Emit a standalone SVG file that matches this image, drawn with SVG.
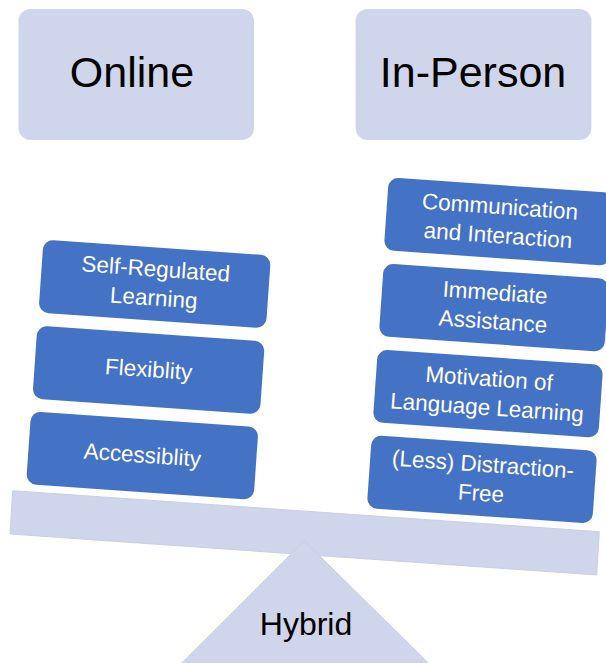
<svg xmlns="http://www.w3.org/2000/svg" width="606" height="663" viewBox="0 0 606 663">
<style>
.hdr{fill:#CFD5EA}
.hdrt{font-family:"Liberation Sans",Arial,sans-serif;font-size:43px;fill:#000;text-anchor:middle}
.box{fill:#4472C4}
.bt{font-family:"Liberation Sans",Arial,sans-serif;font-size:22.5px;fill:#fff;text-anchor:middle}
.lav{fill:#CFD5EA;stroke:#C8CEE6;stroke-width:1}
.hyb{font-family:"Liberation Sans",Arial,sans-serif;font-size:32px;fill:#000;text-anchor:middle}
</style>
<rect width="606" height="663" fill="#fff"/>
<g id="online">
<rect class="hdr" x="18.5" y="9" width="235.5" height="131" rx="12"/>
<text class="hdrt" x="132" y="87">Online</text>
</g>
<g id="in-person">
<rect class="hdr" x="355.6" y="9" width="235.8" height="131" rx="12"/>
<text class="hdrt" x="473" y="87">In-Person</text>
</g>
<g id="beam">
<polygon class="lav" points="12.7,490.7 599.3,531.7 596.7,575 10,534"/>
</g>
<g id="hybrid">
<polygon class="lav" points="304.3,540.7 181.7,663 428.3,663"/>
<text class="hyb" x="306" y="635">Hybrid</text>
</g>
<g id="self-regulated" transform="translate(154.7,284) rotate(4)">
<rect class="box" x="-114" y="-36.5" width="228" height="73" rx="10"/>
<text class="bt" x="0" y="-7.5">Self-Regulated</text>
<text class="bt" x="0" y="21.5">Learning</text>
</g>
<g id="flexiblity" transform="translate(148.6,370) rotate(4)">
<rect class="box" x="-114" y="-36.5" width="228" height="73" rx="10"/>
<text class="bt" x="0" y="7">Flexiblity</text>
</g>
<g id="accessiblity" transform="translate(142.3,455.6) rotate(4)">
<rect class="box" x="-114" y="-36.5" width="228" height="73" rx="10"/>
<text class="bt" x="0" y="7">Accessiblity</text>
</g>
<g id="communication" transform="translate(499,221.6) rotate(4)">
<rect class="box" x="-113" y="-36.5" width="226" height="73" rx="10"/>
<text class="bt" x="0" y="-7.5">Communication</text>
<text class="bt" x="0" y="21.5">and Interaction</text>
</g>
<g id="immediate" transform="translate(494,307.6) rotate(4)">
<rect class="box" x="-113" y="-36.5" width="226" height="73" rx="10"/>
<text class="bt" x="0" y="-7.5">Immediate</text>
<text class="bt" x="0" y="21.5">Assistance</text>
</g>
<g id="motivation" transform="translate(488,393.6) rotate(4)">
<rect class="box" x="-113" y="-36.5" width="226" height="73" rx="10"/>
<text class="bt" x="0" y="-7.5">Motivation of</text>
<text class="bt" x="0" y="21.5">Language Learning</text>
</g>
<g id="distraction" transform="translate(482,479.4) rotate(4)">
<rect class="box" x="-113" y="-36.5" width="226" height="73" rx="10"/>
<text class="bt" x="0" y="-7.5">(Less) Distraction-</text>
<text class="bt" x="0" y="21.5">Free</text>
</g>
<g id="connectors"/>
</svg>
